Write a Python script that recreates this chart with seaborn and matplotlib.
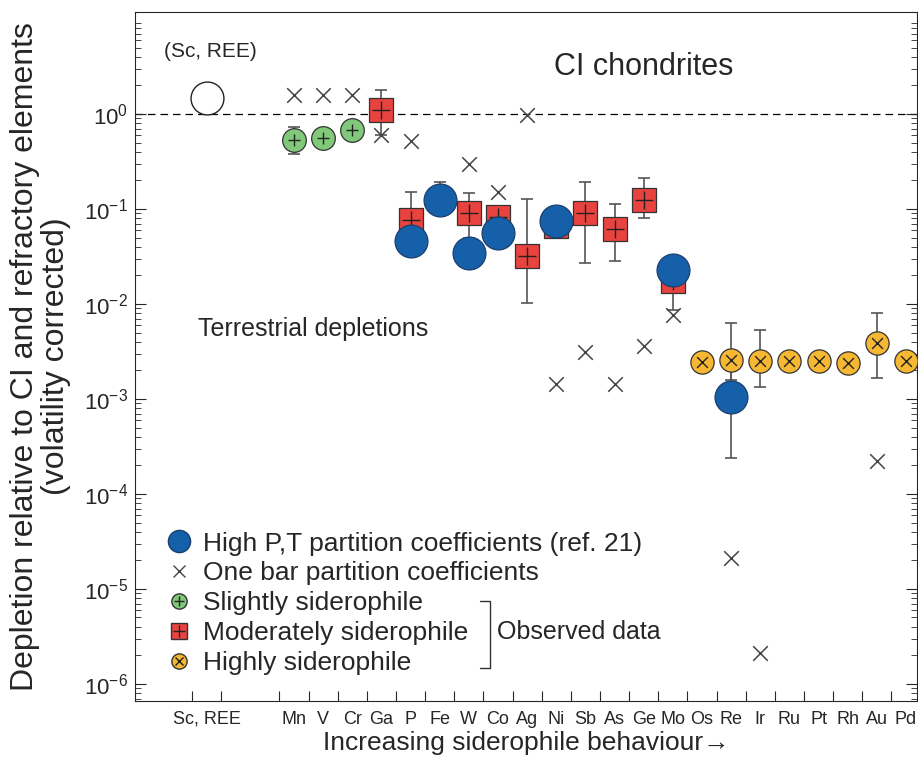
import numpy as np
import pandas as pd
import seaborn as sns
import matplotlib.pyplot as plt
from matplotlib.lines import Line2D
from matplotlib.legend_handler import HandlerTuple

sns.set_style("ticks")
plt.rcParams['font.family'] = ['Liberation Sans', 'DejaVu Sans']
plt.rcParams['mathtext.default'] = 'regular'

# element order along the x axis (Sc, REE set apart on the left)
elements = ["Sc, REE", "Mn", "V", "Cr", "Ga", "P", "Fe", "W", "Co", "Ag", "Ni",
            "Sb", "As", "Ge", "Mo", "Os", "Re", "Ir", "Ru", "Pt", "Rh", "Au", "Pd"]

# reference (Sc, REE)
ref_val = [1.47]

# slightly siderophile (observed)
slight_el = ["Mn", "V", "Cr"]
slight_val = [0.53, 0.56, 0.68]
slight_lo = [0.38, 0.56, 0.68]
slight_hi = [0.73, 0.56, 0.68]

# moderately siderophile (observed)
moder_el = ["Ga", "P", "W", "Co", "Ag", "Ni", "Sb", "As", "Ge", "Mo"]
moder_val = [1.10, 0.077, 0.091, 0.083, 0.032, 0.066, 0.091, 0.062, 0.124, 0.0174]
moder_lo = [0.60, 0.05, 0.05, 0.083, 0.0102, 0.066, 0.027, 0.028, 0.081, 0.0087]
moder_hi = [1.79, 0.15, 0.148, 0.083, 0.127, 0.066, 0.19, 0.112, 0.21, 0.0174]

# highly siderophile (observed)
high_el = ["Os", "Re", "Ir", "Ru", "Pt", "Rh", "Au", "Pd"]
high_val = [0.00245, 0.0026, 0.0025, 0.0025, 0.0025, 0.0024, 0.0039, 0.0025]
high_lo = [0.00245, 0.0016, 0.00134, 0.0025, 0.0025, 0.0024, 0.00166, 0.0025]
high_hi = [0.00245, 0.0063, 0.0053, 0.0025, 0.0025, 0.0024, 0.0080, 0.0025]

# high P,T partition coefficients (ref. 21)
hpt_el = ["P", "Fe", "W", "Co", "Ni", "Mo", "Re"]
hpt_val = [0.046, 0.124, 0.034, 0.056, 0.075, 0.023, 0.00105]
hpt_lo = [0.046, 0.124, 0.034, 0.056, 0.075, 0.023, 0.00024]
hpt_hi = [0.046, 0.19, 0.034, 0.056, 0.075, 0.023, 0.0025]

# one bar partition coefficients
onebar_el = ["Mn", "V", "Cr", "Ga", "P", "W", "Co", "Ag", "Ni", "Sb", "As",
             "Ge", "Mo", "Re", "Ir", "Au"]
onebar_val = [1.58, 1.58, 1.58, 0.60, 0.52, 0.30, 0.15, 0.98, 0.00144, 0.0031,
              0.00144, 0.0036, 0.0076, 2.1e-5, 2.1e-6, 2.2e-4]

# x position of each element (gap after Sc, REE)
xpos = dict(zip(elements, [0] + list(range(3, 25))))

blue = "#1560a8"
red = "#e8433f"
green = "#80c97b"
orange = "#f6b733"
edge = "#333333"
ebar = "#555555"


def frame(el, val, lo=None, hi=None):
    df = pd.DataFrame({"el": el, "x": [xpos[e] for e in el], "y": val})
    if lo is not None:
        df["lo"] = df["y"] - np.array(lo)
        df["hi"] = np.array(hi) - df["y"]
    return df


slight = frame(slight_el, slight_val, slight_lo, slight_hi)
moder = frame(moder_el, moder_val, moder_lo, moder_hi)
high = frame(high_el, high_val, high_lo, high_hi)
hpt = frame(hpt_el, hpt_val, hpt_lo, hpt_hi)
onebar = frame(onebar_el, onebar_val)
ref = frame(["Sc, REE"], ref_val)

fig = plt.figure(figsize=(9.18, 7.6), dpi=100)
ax = fig.add_axes([0.147, 0.0776, 0.852, 0.9066])

# error bars first
for df in [slight, moder, high, hpt]:
    ax.errorbar(df["x"], df["y"], yerr=[df["lo"], df["hi"]], fmt="none",
                ecolor=ebar, elinewidth=1.2, capsize=4, capthick=1.2, zorder=1)

ax.axhline(1, color="black", lw=0.9, ls=(0, (6, 4)), zorder=0.5)

sns.scatterplot(data=onebar, x="x", y="y", ax=ax, marker="x", s=110,
                color="#444444", linewidth=1.1, zorder=2)
sns.scatterplot(data=ref, x="x", y="y", ax=ax, marker="o", s=560,
                color="white", edgecolor="#222222", linewidth=1.0, zorder=3)
sns.scatterplot(data=slight, x="x", y="y", ax=ax, marker="o", s=290,
                color=green, edgecolor=edge, linewidth=0.9, zorder=3)
sns.scatterplot(data=slight, x="x", y="y", ax=ax, marker="+", s=80,
                color="#222222", linewidth=1.0, zorder=3.2)
sns.scatterplot(data=moder, x="x", y="y", ax=ax, marker="s", s=280,
                color=red, edgecolor=edge, linewidth=0.9, zorder=3)
sns.scatterplot(data=moder, x="x", y="y", ax=ax, marker="+", s=150,
                color="#222222", linewidth=1.0, zorder=3.2)
sns.scatterplot(data=high, x="x", y="y", ax=ax, marker="o", s=280,
                color=orange, edgecolor=edge, linewidth=0.9, zorder=3)
sns.scatterplot(data=high, x="x", y="y", ax=ax, marker="x", s=60,
                color="#222222", linewidth=1.0, zorder=3.2)
sns.scatterplot(data=hpt, x="x", y="y", ax=ax, marker="o", s=560,
                color=blue, edgecolor="#1b3f6e", linewidth=0.9, zorder=4)

ax.set_yscale("log")
ax.set_xlim(-2.46, 24.38)
ax.set_ylim(6.6e-7, 11.85)

bounds = [-0.5, 0.5] + [p + 0.5 for p in range(2, 24)]
ax.set_xticks(bounds)
ax.set_xticklabels([])
ax.set_xticks([xpos[e] for e in elements], minor=True)
ax.set_xticklabels(elements, minor=True, fontsize=13)
ax.tick_params(axis="x", which="major", direction="in", length=7, width=0.8)
ax.tick_params(axis="x", which="minor", length=0, pad=7)
ax.tick_params(axis="y", which="both", direction="in", right=True,
               labelsize=16, pad=5)
ax.tick_params(axis="y", which="major", length=8, width=0.8)
ax.tick_params(axis="y", which="minor", length=4, width=0.6)
ax.set_yticks([10.0 ** k for k in range(-6, 1)])

ax.set_xlabel("Increasing siderophile behaviour\u2192", fontsize=19, labelpad=2)
ax.set_ylabel("Depletion relative to CI and refractory elements\n(volatility corrected)",
              fontsize=23, labelpad=9, linespacing=1.05)

ax.text(0.12, 4.5, "(Sc, REE)", fontsize=15, ha="center", va="center")
ax.text(15.0, 3.1, "CI chondrites", fontsize=22, ha="center", va="center")
ax.text(3.65, 0.00546, "Terrestrial depletions", fontsize=18, ha="center", va="center")

h_blue = Line2D([], [], ls="none", marker="o", ms=16, mfc=blue, mec="#1b3f6e")
h_x = Line2D([], [], ls="none", marker="x", ms=9, color="#444444")
h_green = (Line2D([], [], ls="none", marker="o", ms=11, mfc=green, mec=edge),
           Line2D([], [], ls="none", marker="+", ms=7, color="#222222"))
h_red = (Line2D([], [], ls="none", marker="s", ms=11, mfc=red, mec=edge),
         Line2D([], [], ls="none", marker="+", ms=9, color="#222222"))
h_orange = (Line2D([], [], ls="none", marker="o", ms=11, mfc=orange, mec=edge),
            Line2D([], [], ls="none", marker="x", ms=6, color="#222222"))
ax.legend([h_blue, h_x, h_green, h_red, h_orange],
          ["High P,T partition coefficients (ref. 21)",
           "One bar partition coefficients",
           "Slightly siderophile",
           "Moderately siderophile",
           "Highly siderophile"],
          handler_map={tuple: HandlerTuple(ndivide=1)},
          loc="upper left", bbox_to_anchor=(0.036, 0.246), frameon=False,
          fontsize=19, handlelength=1.2, handletextpad=0.3, labelspacing=0.22,
          borderaxespad=0, borderpad=0)

# bracket for observed data
bx = 0.454
ax.plot([bx - 0.013, bx, bx, bx - 0.013], [0.145, 0.145, 0.048, 0.048],
        transform=ax.transAxes, color="#333333", lw=1.0)
ax.text(bx + 0.009, 0.100, "Observed data", transform=ax.transAxes,
        fontsize=18, va="center")

fig.savefig("out.png", dpi=100)
